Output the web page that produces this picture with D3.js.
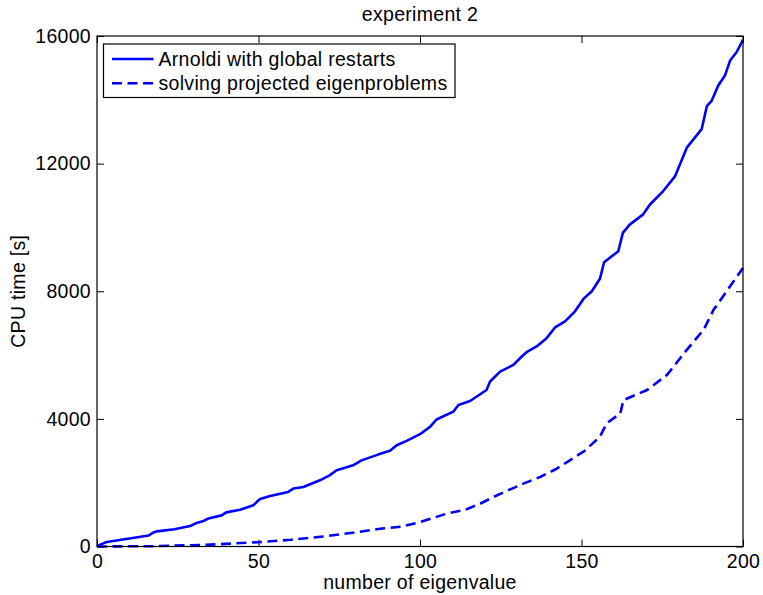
<!DOCTYPE html>
<html>
<head>
<meta charset="utf-8">
<script src="https://cdn.jsdelivr.net/npm/d3@7"></script>
<style>
  body { margin: 0; background: #fff; }
  svg text { font-family: "Liberation Sans", Arial, sans-serif; font-size: 19.5px; letter-spacing: 0.3px; fill: #000; }
</style>
</head>
<body>
<div id="chart"></div>
<script>
// number of eigenvalue vs CPU time
const arnoldiX = [0, 1, 3, 8, 12, 16, 17.5, 18.5, 24, 28.8, 30.8, 33, 34.5, 38.6, 40, 44.3, 48.4, 49.5, 50.5, 53.6,
  59.2, 60.8, 63.9, 69, 72, 74.2, 79.3, 81.9, 87, 90.7, 92.8, 96, 100, 103.1, 105.1, 110.3, 111.9, 115.5, 120.6, 121.7,
  124.8, 128.9, 131.5, 133, 136.1, 139.2, 141.8, 144.9, 148, 150.6, 153.2, 155.7, 157, 161.4, 162.8, 165, 169.1, 171.2,
  175.3, 179, 182.6, 187.2, 188.8, 190.3, 192.3, 194.4, 196, 198, 200];
const arnoldiY = [0, 60, 140, 220, 280, 345, 440, 475, 540, 640, 735, 800, 880, 975, 1070, 1150, 1290, 1400, 1490, 1580,
  1710, 1815, 1865, 2075, 2230, 2390, 2545, 2700, 2880, 3000, 3175, 3320, 3520, 3750, 3980, 4225, 4435, 4560, 4905, 5170,
  5480, 5690, 5955, 6090, 6270, 6530, 6865, 7055, 7370, 7760, 8000, 8390, 8910, 9255, 9830, 10095, 10410, 10720,
  11140, 11610, 12500, 13080, 13800, 13970, 14440, 14760, 15230, 15490, 15880];

const projX = [0, 17.4, 33.4, 50, 60, 70, 80, 87.6, 94, 100, 108.3, 114, 118.6, 122.7, 127, 132, 137.2, 142, 146.4,
  151, 155.7, 157.8, 162, 163, 170.3, 176.5, 182.6, 187.8, 190.9, 196, 200];
const projY = [0, 10, 50, 135, 210, 315, 440, 555, 620, 765, 1030, 1150, 1340, 1550, 1750, 1970, 2180, 2420, 2700,
  3000, 3440, 3860, 4170, 4590, 4905, 5380, 6165, 6790, 7420, 8155, 8730];

const xTicks = [0, 50, 100, 150, 200];
const yTicks = [0, 4000, 8000, 12000, 16000];
const legendLabels = ["Arnoldi with global restarts", "solving projected eigenproblems"];

const width = 763, height = 595;
const margin = { top: 36, right: 20, bottom: 48.5, left: 97 };
const w = width - margin.left - margin.right;
const h = height - margin.top - margin.bottom;

const svg = d3.select("#chart").append("svg")
  .attr("width", width)
  .attr("height", height);

const g = svg.append("g")
  .attr("transform", `translate(${margin.left},${margin.top})`);

const x = d3.scaleLinear().domain([0, 200]).range([0, w]);
const y = d3.scaleLinear().domain([0, 16000]).range([h, 0]);

// axes, ticks pointing inward like matlab
g.append("g")
  .attr("transform", `translate(0,${h})`)
  .call(d3.axisBottom(x).tickValues(xTicks).tickSizeInner(-7).tickSizeOuter(0).tickPadding(8));
g.append("g")
  .call(d3.axisTop(x).tickValues(xTicks).tickSizeInner(-7).tickSizeOuter(0).tickFormat(""));
g.append("g")
  .call(d3.axisLeft(y).tickValues(yTicks).tickSizeInner(-7).tickSizeOuter(0).tickPadding(6).tickFormat(d3.format("d")));
g.append("g")
  .attr("transform", `translate(${w},0)`)
  .call(d3.axisRight(y).tickValues(yTicks).tickSizeInner(-7).tickSizeOuter(0).tickFormat(""));

g.selectAll(".domain").remove();
g.selectAll(".tick line").attr("stroke", "#000");
g.selectAll(".tick text").attr("font-size", null).attr("font-family", null);

const line = d3.line()
  .x(d => x(d[0]))
  .y(d => y(d[1]));

g.append("path")
  .datum(d3.zip(arnoldiX, arnoldiY))
  .attr("fill", "none")
  .attr("stroke", "#0000ff")
  .attr("stroke-width", 2.6)
  .attr("stroke-linejoin", "round")
  .attr("d", line);

g.append("path")
  .datum(d3.zip(projX, projY))
  .attr("fill", "none")
  .attr("stroke", "#0000ff")
  .attr("stroke-width", 2.6)
  .attr("stroke-dasharray", "10,5.5")
  .attr("d", line);

// frame
g.append("rect")
  .attr("width", w)
  .attr("height", h)
  .attr("fill", "none")
  .attr("stroke", "#000")
  .attr("stroke-width", 1.2);

// title + labels
svg.append("text")
  .attr("x", margin.left + w / 2)
  .attr("y", 21)
  .attr("text-anchor", "middle")
  .text("experiment 2");

svg.append("text")
  .attr("x", margin.left + w / 2)
  .attr("y", 589)
  .attr("text-anchor", "middle")
  .text("number of eigenvalue");

svg.append("text")
  .attr("transform", `translate(25,${margin.top + h / 2}) rotate(-90)`)
  .attr("text-anchor", "middle")
  .text("CPU time [s]");

// legend
const legend = g.append("g").attr("transform", "translate(6.5,8)");
legend.append("rect")
  .attr("width", 351.5)
  .attr("height", 53.5)
  .attr("fill", "#fff")
  .attr("stroke", "#000")
  .attr("stroke-width", 1.2);

legendLabels.forEach((lab, i) => {
  const yy = 15 + i * 24.3;
  legend.append("line")
    .attr("x1", 8.5).attr("x2", 50)
    .attr("y1", yy).attr("y2", yy)
    .attr("stroke", "#0000ff")
    .attr("stroke-width", 2.6)
    .attr("stroke-dasharray", i === 1 ? "10,5.5" : null);
  legend.append("text")
    .attr("x", 55)
    .attr("y", yy)
    .attr("dy", "0.35em")
    .text(lab);
});
</script>
</body>
</html>
